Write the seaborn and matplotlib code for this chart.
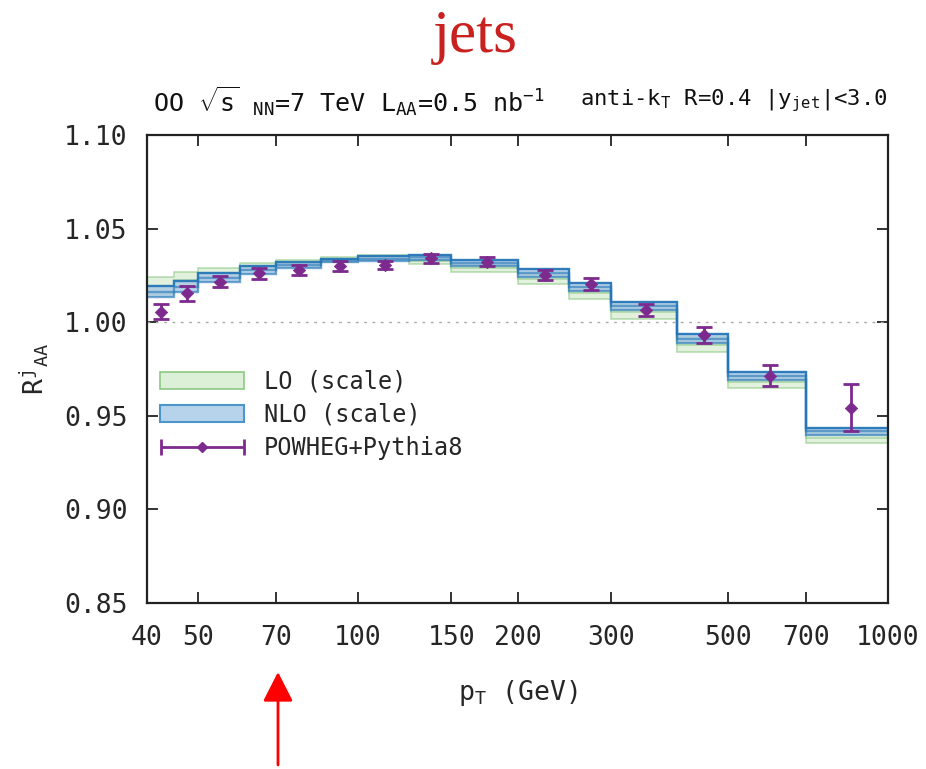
import numpy as np
import matplotlib
matplotlib.use("Agg")
import matplotlib.pyplot as plt
import seaborn as sns
from matplotlib.patches import Patch
from matplotlib.legend_handler import HandlerErrorbar

# ---------------- data ----------------
bin_edges = [40, 45, 50, 60, 70, 85, 100, 125, 150, 200, 250, 300, 400, 500, 700, 1000]

nlo_hi  = [1.0191, 1.0220, 1.0261, 1.0300, 1.0323, 1.0340, 1.0354, 1.0359, 1.0332, 1.0284, 1.0208, 1.0110, 0.9937, 0.9736, 0.9436]
nlo_mid = [1.0162, 1.0190, 1.0237, 1.0278, 1.0306, 1.0330, 1.0340, 1.0346, 1.0317, 1.0264, 1.0188, 1.0088, 0.9912, 0.9714, 0.9417]
nlo_lo  = [1.0132, 1.0160, 1.0213, 1.0256, 1.0290, 1.0320, 1.0327, 1.0332, 1.0302, 1.0243, 1.0167, 1.0065, 0.9887, 0.9691, 0.9397]

lo_hi   = [1.0241, 1.0267, 1.0288, 1.0315, 1.0332, 1.0350, 1.0359, 1.0345, 1.0310, 1.0260, 1.0190, 1.0090, 0.9920, 0.9715, 0.9415]
lo_mid  = [1.0195, 1.0228, 1.0264, 1.0297, 1.0316, 1.0335, 1.0345, 1.0328, 1.0290, 1.0231, 1.0156, 1.0053, 0.9880, 0.9681, 0.9384]
lo_lo   = [1.0150, 1.0190, 1.0240, 1.0280, 1.0300, 1.0320, 1.0330, 1.0310, 1.0270, 1.0202, 1.0122, 1.0016, 0.9839, 0.9647, 0.9353]

pt_centers = [42.5, 47.5, 55, 65, 77.5, 92.5, 112.5, 137.5, 175, 225, 275, 350, 450, 600, 850]
powheg_val = [1.0055, 1.0154, 1.0216, 1.0261, 1.0279, 1.0300, 1.0306, 1.0341, 1.0323, 1.0252, 1.0204, 1.0065, 0.9932, 0.9713, 0.9543]
powheg_err = [0.0040, 0.0040, 0.0030, 0.0030, 0.0027, 0.0027, 0.0023, 0.0023, 0.0024, 0.0027, 0.0030, 0.0030, 0.0043, 0.0056, 0.0125]

x_ticks = [40, 50, 70, 100, 150, 200, 300, 500, 700, 1000]
y_ticks = [0.85, 0.90, 0.95, 1.00, 1.05, 1.10]

# ---------------- style ----------------
sns.set_theme(style="ticks")
plt.rcParams["font.family"] = ["DejaVu Sans Mono", "DejaVu Sans"]
plt.rcParams["mathtext.fontset"] = "custom"
plt.rcParams["mathtext.rm"] = "DejaVu Sans Mono"
plt.rcParams["mathtext.it"] = "DejaVu Sans Mono"
plt.rcParams["mathtext.bf"] = "DejaVu Sans Mono"

blue_line = "#2676b8"
blue_fill = "#a9c9e6"
green_line = "#8cc984"
green_fill = "#dcefd7"
purple = "#7d2a8e"

fig = plt.figure(figsize=(9.26, 7.69), dpi=100)
ax = fig.add_axes([147/926, 1-603/769, (888-147)/926, (603-135)/769])

# LO band
ax.stairs(lo_hi, bin_edges, baseline=lo_lo, fill=True, color=green_fill, alpha=0.85, lw=0)
for arr in (lo_hi, lo_mid, lo_lo):
    ax.stairs(arr, bin_edges, baseline=None, color=green_line, lw=1.2, alpha=0.6)

# NLO band
ax.stairs(nlo_hi, bin_edges, baseline=nlo_lo, fill=True, color=blue_fill, alpha=0.8, lw=0)
for arr, a in ((nlo_lo, 0.65), (nlo_mid, 0.6), (nlo_hi, 0.95)):
    ax.stairs(arr, bin_edges, baseline=None, color=blue_line, lw=1.7, alpha=a)

# reference line
ax.axhline(1.0, color="#aaaaaa", lw=1.0, ls=(0, (2, 4)), zorder=1)

# POWHEG points
ax.errorbar(pt_centers, powheg_val, yerr=powheg_err, fmt="none", ecolor=purple,
            elinewidth=2, capsize=6, capthick=2, zorder=5)
sns.scatterplot(x=pt_centers, y=powheg_val, marker="D", s=40, color=purple,
                edgecolor=purple, ax=ax, zorder=6, legend=False)

ax.set_xscale("log")
ax.set_xlim(40, 1000)
ax.set_ylim(0.85, 1.10)
ax.set_xticks(x_ticks)
ax.set_xticklabels([str(t) for t in x_ticks])
ax.xaxis.set_minor_locator(matplotlib.ticker.NullLocator())
ax.set_yticks(y_ticks)
ax.set_yticklabels([f"{t:.2f}" for t in y_ticks])
ax.tick_params(axis="both", which="major", direction="in", length=8, width=1.3,
               labelsize=19, top=True, right=True, color="#222222")
ax.tick_params(axis="x", pad=16)
ax.tick_params(axis="y", pad=14)
for sp in ax.spines.values():
    sp.set_visible(True)
    sp.set_color("#222222")
    sp.set_linewidth(1.6)

ax.set_xlabel(r"p$_{\mathrm{T}}$ (GeV)", fontsize=19, labelpad=19)
ax.set_ylabel(r"R$^{\mathrm{j}}$$_{\mathrm{AA}}$", fontsize=19, labelpad=10)

# legend
h_lo = Patch(facecolor=green_fill, edgecolor=green_line, lw=1.2, label="LO (scale)")
h_nlo = Patch(facecolor="#b7d3ec", edgecolor="#4d96cc", lw=1.5, label="NLO (scale)")
eb = ax.errorbar([np.nan], [np.nan], xerr=[1.0], fmt="D", color=purple, ms=5,
                 elinewidth=2, capsize=6, capthick=2, label="POWHEG+Pythia8")
leg = ax.legend(handles=[h_lo, h_nlo, eb], loc="center left",
                bbox_to_anchor=(0.018, 0.402), frameon=False, fontsize=17,
                handlelength=3.55, handleheight=0.7, handletextpad=0.85,
                labelspacing=0.38, borderpad=0, borderaxespad=0,
                handler_map={eb: HandlerErrorbar(xerr_size=1.75)})

# header texts
fig.text(153/926, 1-101/769, r"OO $\sqrt{\mathrm{s}}$ $_{\mathrm{NN}}$=7 TeV L$_{\mathrm{AA}}$=0.5 nb$^{-1}$",
         fontsize=18, ha="left", va="center", color="#111111")
fig.text(888/926, 1-101/769, r"anti-k$_{\mathrm{T}}$ R=0.4 |y$_{\mathrm{jet}}$|<3.0",
         fontsize=16, ha="right", va="center", color="#111111")

# title
fig.text(475/926, 1-37/769, "jets", fontsize=44, color="#c8211f",
         family="Liberation Serif", ha="center", va="center")

# red arrow
fig.add_artist(matplotlib.patches.FancyArrowPatch(
    (278/926, 1-765/769), (278/926, 1-672/769), transform=fig.transFigure,
    arrowstyle="-|>,head_length=0.55,head_width=0.28", mutation_scale=33,
    color="red", lw=2, shrinkA=0, shrinkB=0))

fig.savefig("out.png", dpi=100)
